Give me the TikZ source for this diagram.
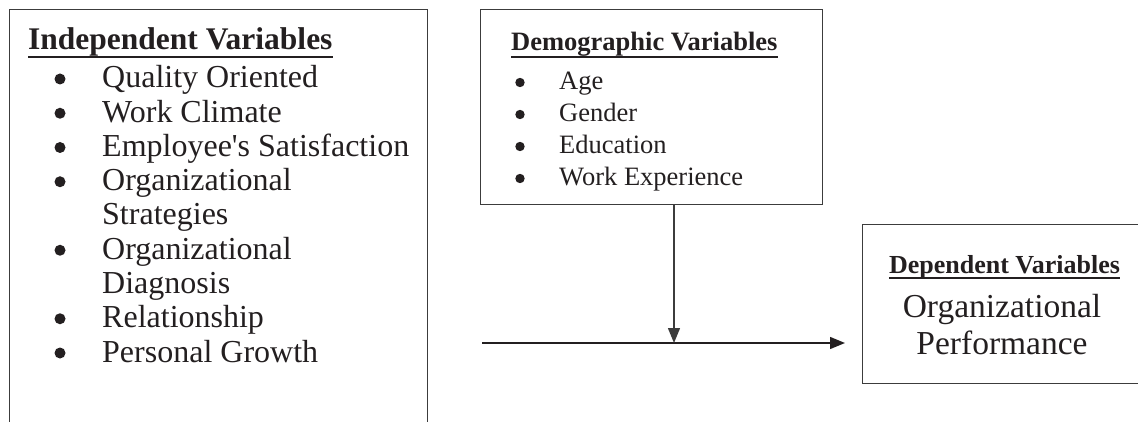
\documentclass[tikz,border=0pt]{standalone}
\usepackage{fontspec}
\setmainfont{Liberation Serif}
\usetikzlibrary{arrows.meta, calc, positioning}
\definecolor{ink}{HTML}{231F20}
\definecolor{rule}{HTML}{3C3C3C}
\tikzset{>={Triangle[length=15pt,width=12pt]}}

\begin{document}
\begin{tikzpicture}[x=1pt, y=-1pt, inner sep=0pt, text=ink,
    box/.style={draw=rule, line width=1.4pt, anchor=north west},
    bigtxt/.style={anchor=base west, font=\fontsize{32}{36}\selectfont},
    smalltxt/.style={anchor=base west, font=\fontsize{26.5}{30}\selectfont},
    uline/.style={draw=ink, line width=1.8pt},
    link/.style={draw=rule, line width=1.4pt, ->}]
	\useasboundingbox (0,0) rectangle (1138,422);
	\clip (0,0) rectangle (1138,422);
	% boxes
	\node[box, minimum width=418pt, minimum height=440pt] (indep) at (9,9) {};
	\node[box, minimum width=342pt, minimum height=195pt] (demo) at (480,9) {};
	\node[box, minimum width=277pt, minimum height=159pt] (dep) at (862,224) {};
	% independent variables
	\node[bigtxt, font=\fontsize{31.5}{36}\selectfont\bfseries] (indeptitle) at (28,50) {Independent Variables};
	\draw[uline] ([yshift=-7pt]indeptitle.base west) -- ([yshift=-7pt]indeptitle.base east);
	\foreach \n/\mk/\txt in {0/1/Quality Oriented, 1/1/Work Climate, 2/1/Employee\textquotesingle s Satisfaction,
			3/1/Organizational, 4/0/Strategies, 5/1/Organizational, 6/0/Diagnosis, 7/1/Relationship, 8/1/Personal Growth}{
		\node[bigtxt] (indep-\n) at (102, 88+34.25*\n) {\txt};
		\ifnum\mk=1 \fill[ink] (60, 79+34.25*\n) circle (5.5pt);\fi
	}
	% demographic variables
	\node[smalltxt, font=\fontsize{26.5}{30}\selectfont\bfseries] (demotitle) at (511,51) {Demographic Variables};
	\draw[uline] ([yshift=-6pt]demotitle.base west) -- ([yshift=-6pt]demotitle.base east);
	\foreach \n/\txt in {0/Age, 1/Gender, 2/Education, 3/Work Experience}{
		\node[smalltxt] (demo-\n) at (559, 90+32*\n) {\txt};
		\fill[ink] (520, 82.5+32*\n) circle (4.7pt);
	}
	% dependent variables
	\node[smalltxt, anchor=base, font=\fontsize{26}{30}\selectfont\bfseries] (deptitle) at (1004.5,273) {Dependent Variables};
	\draw[uline] ([yshift=-5pt]deptitle.base west) -- ([yshift=-5pt]deptitle.base east);
	\node[anchor=base, font=\fontsize{33.5}{38}\selectfont] (dep-0) at (1002,317) {Organizational};
	\node[anchor=base, font=\fontsize{33.5}{38}\selectfont] (dep-1) at (1002,354) {Performance};
	% arrows
	\coordinate (start) at (482,343);
	\coordinate (meet) at (674,343);
	\draw[link, draw=ink, shorten >=17pt] (start) -- (start -| dep.west);
	\draw[link] (demo.south -| meet) -- (meet);
\end{tikzpicture}
\end{document}
